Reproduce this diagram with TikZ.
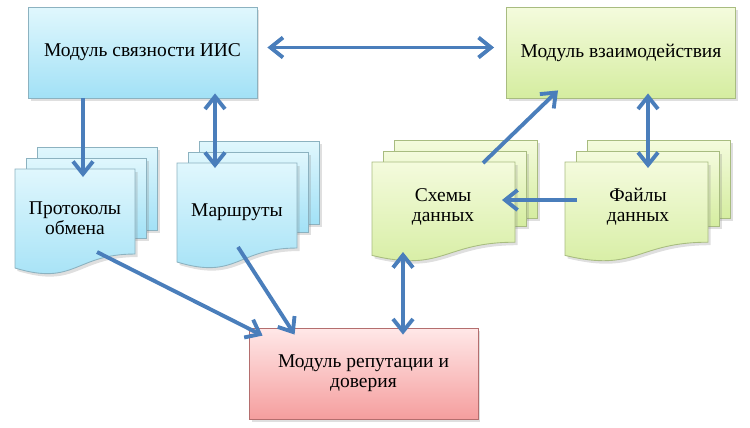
\documentclass[tikz,border=0pt]{standalone}
\usepackage{fontspec}
\setmainfont{Liberation Serif}
\newfontfamily\serifa{Liberation Serif}
\usepackage{tikz}
\usetikzlibrary{arrows.meta,calc,shadows}
\definecolor{CianClaro}{RGB}{224,247,253}
\definecolor{CianOscuro}{RGB}{162,225,246}
\definecolor{CianBorde}{RGB}{140,178,192}
\definecolor{VerdeClaro}{RGB}{244,251,221}
\definecolor{VerdeOscuro}{RGB}{213,237,160}
\definecolor{VerdeBorde}{RGB}{168,188,128}
\definecolor{RosaClaro}{RGB}{255,232,232}
\definecolor{RosaOscuro}{RGB}{245,158,158}
\definecolor{RosaBorde}{RGB}{180,110,110}
\definecolor{AzulFlecha}{RGB}{74,126,187}

\newcommand{\pilaHojas}[5]{%
  \draw[#5] ({#1+22},{#2-22}) rectangle ({#1+#3+22},{#2+0.802*#4-24});
  \draw[#5] ({#1+11},{#2-11}) rectangle ({#1+#3+11},{#2+0.802*#4-16});
  \draw[#5] (#1,#2) -- ({#1+#3},#2) -- ({#1+#3},{#2+0.802*#4})
    .. controls ({#1+0.5*#3},{#2+0.802*#4}) and ({#1+0.5*#3},{#2+1.107*#4})
    .. (#1,{#2+0.934*#4}) -- cycle;}

\begin{document}
\begin{tikzpicture}[x=0.02cm,y=-0.02cm,>={Straight Barb[length=2.5mm,width=4mm]},
  sombra/.style={drop shadow={opacity=0.25,shadow xshift=0.5mm,shadow yshift=-0.6mm}},
  modulo/.style={draw,line width=0.5pt,sombra,minimum width=4.58cm,minimum height=1.82cm,
    align=center,font=\serifa\fontsize{11.1}{11.4}\selectfont},
  hojaCian/.style={draw=CianBorde,line width=0.5pt,sombra,top color=CianClaro,bottom color=CianOscuro},
  hojaVerde/.style={draw=VerdeBorde,line width=0.5pt,sombra,top color=VerdeClaro,bottom color=VerdeOscuro},
  texto/.style={align=center,font=\serifa\fontsize{11.1}{11.4}\selectfont},
  flecha/.style={AzulFlecha,line width=2.2pt}]
  \useasboundingbox (0,0) rectangle (750,427);
  \node[modulo,draw=CianBorde,top color=CianClaro,bottom color=CianOscuro] (svyaz) at (142.5,52.5) {Модуль связности ИИС};
  \node[modulo,draw=VerdeBorde,top color=VerdeClaro,bottom color=VerdeOscuro] (vzaim) at (621,52.5) {Модуль взаимодействия};
  \node[modulo,draw=RosaBorde,top color=RosaClaro,bottom color=RosaOscuro] (reput) at (363.5,373.5) {Модуль репутации и\\доверия};
  \pilaHojas{15}{169}{120}{106}{hojaCian}
  \pilaHojas{177}{163}{120}{106}{hojaCian}
  \pilaHojas{372}{162}{143}{100}{hojaVerde}
  \pilaHojas{565}{162}{143}{100}{hojaVerde}
  \node[texto] (proto) at (75,218) {Протоколы\\обмена};
  \node[texto] (marsh) at (237,212) {Маршруты};
  \node[texto] (skhem) at (443,207) {Схемы\\данных};
  \node[texto] (fayl) at (638,207) {Файлы\\данных};
  \coordinate (p1) at (83,177);
  \coordinate (p2) at (97,252);
  \coordinate (m1) at (215,168);
  \coordinate (m2) at (238,247);
  \coordinate (s1) at (483,163);
  \coordinate (s2) at (502,200);
  \coordinate (s3) at (403,252);
  \coordinate (f1) at (648,168);
  \coordinate (f2) at (577,200);
  \draw[flecha,->] (svyaz.south -| p1) -- (p1);
  \draw[flecha,<->,shorten >=-1mm] (m1) -- (svyaz.south -| m1);
  \draw[flecha,<->,shorten <=2mm,shorten >=2.4mm] ([yshift=1mm]svyaz.east) -- ([yshift=1mm]vzaim.west);
  \draw[flecha,->] (s1) -- ($(vzaim.south)+(-63,-8)$);
  \draw[flecha,<->,shorten >=-1mm] (f1) -- (vzaim.south -| f1);
  \draw[flecha,->] (f2) -- (s2);
  \draw[flecha,->] (p2) -- ($(reput.north west)+(14,8)$);
  \draw[flecha,->] (m2) -- ($(reput.north west)+(46,7)$);
  \draw[flecha,<->,shorten >=-1.4mm] (s3) -- (reput.north -| s3);
\end{tikzpicture}
\end{document}
